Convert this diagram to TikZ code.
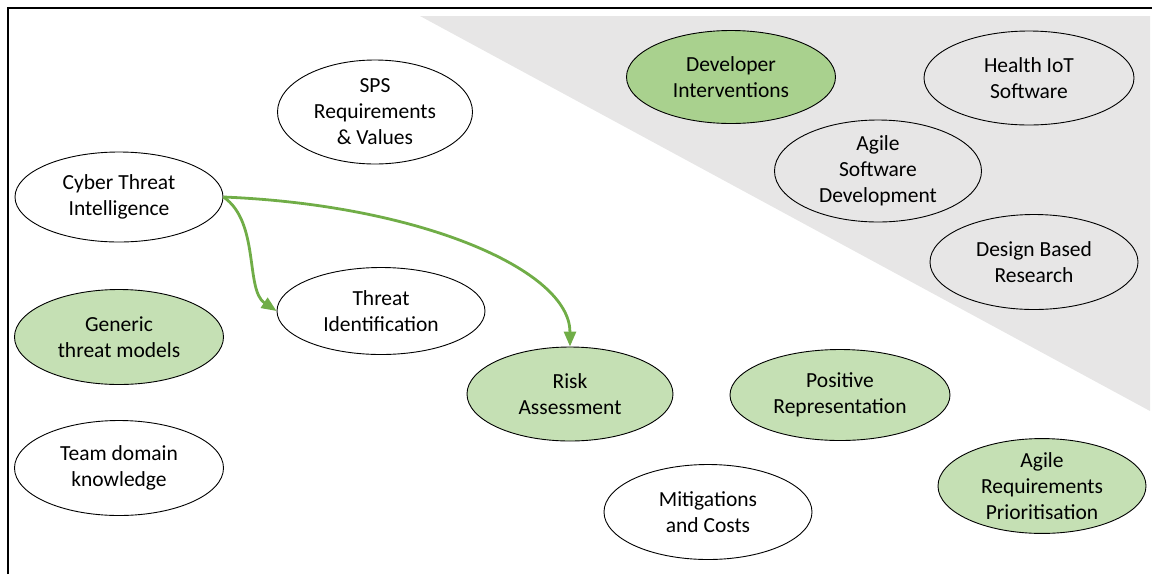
\documentclass[tikz,border=0pt]{standalone}
\usepackage{fontspec}
\setmainfont{Carlito}
\usetikzlibrary{shapes.geometric,arrows.meta}
\definecolor{lgreen}{HTML}{C5E0B4}
\definecolor{dgreen}{HTML}{A9D18E}
\definecolor{agreen}{HTML}{70AD47}
\definecolor{bggrey}{HTML}{E7E6E6}
\tikzset{
  ell/.style={ellipse, draw=black, line width=0.9pt, inner sep=0pt, align=center,
    font=\fontsize{21.5}{26}\selectfont},
  conn/.style={draw=agreen, line width=2.8pt, -{Triangle[length=15pt,width=12pt]}}
}
\begin{document}
\begin{tikzpicture}[x=1pt,y=-1pt]
\useasboundingbox (0,0) rectangle (1152,574);
\fill[bggrey] (420,16) -- (1150,16) -- (1150,411) -- cycle;
\draw[line width=1.5pt] (8,574) -- (8,8) -- (1152,8);

\node[ell, minimum width=195pt, minimum height=104pt] (sps) at (375,112) {SPS\\Requirements\\\& Values};
\node[ell, minimum width=208pt, minimum height=90pt] (cti) at (119,197) {Cyber Threat\\Intelligence};
\node[ell, minimum width=208pt, minimum height=87pt] (ti) at (381,311) {Threat\\Identification};
\node[ell, fill=lgreen, minimum width=209pt, minimum height=95pt] (gtm) at (119,337) {Generic\\threat models};
\node[ell, minimum width=209pt, minimum height=95pt] (tdk) at (119,468) {Team domain\\knowledge};
\node[ell, fill=lgreen, minimum width=206pt, minimum height=94pt] (ra) at (570,394) {Risk\\Assessment};
\node[ell, fill=lgreen, minimum width=220pt, minimum height=91pt] (pr) at (840,395) {Positive\\Representation};
\node[ell, minimum width=208pt, minimum height=95pt] (mc) at (708,512) {Mitigations\\and Costs};
\node[ell, fill=lgreen, minimum width=208pt, minimum height=94pt] (arp) at (1042,486) {Agile\\Requirements\\Prioritisation};
\node[ell, fill=dgreen, minimum width=209pt, minimum height=93pt] (di) at (731,77) {Developer\\Interventions};
\node[ell, minimum width=210pt, minimum height=94pt] (hiot) at (1029,78) {Health IoT\\Software};
\node[ell, minimum width=207pt, minimum height=102pt] (asd) at (878,171) {Agile\\Software\\Development};
\node[ell, minimum width=208pt, minimum height=95pt] (dbr) at (1034,262) {Design Based\\Research};

\draw[conn] (cti.east) .. controls (260,222) and (245,290) .. (ti.west);
\draw[conn] (cti.east) .. controls (420,205) and (570,270) .. (ra.north);
\end{tikzpicture}
\end{document}
